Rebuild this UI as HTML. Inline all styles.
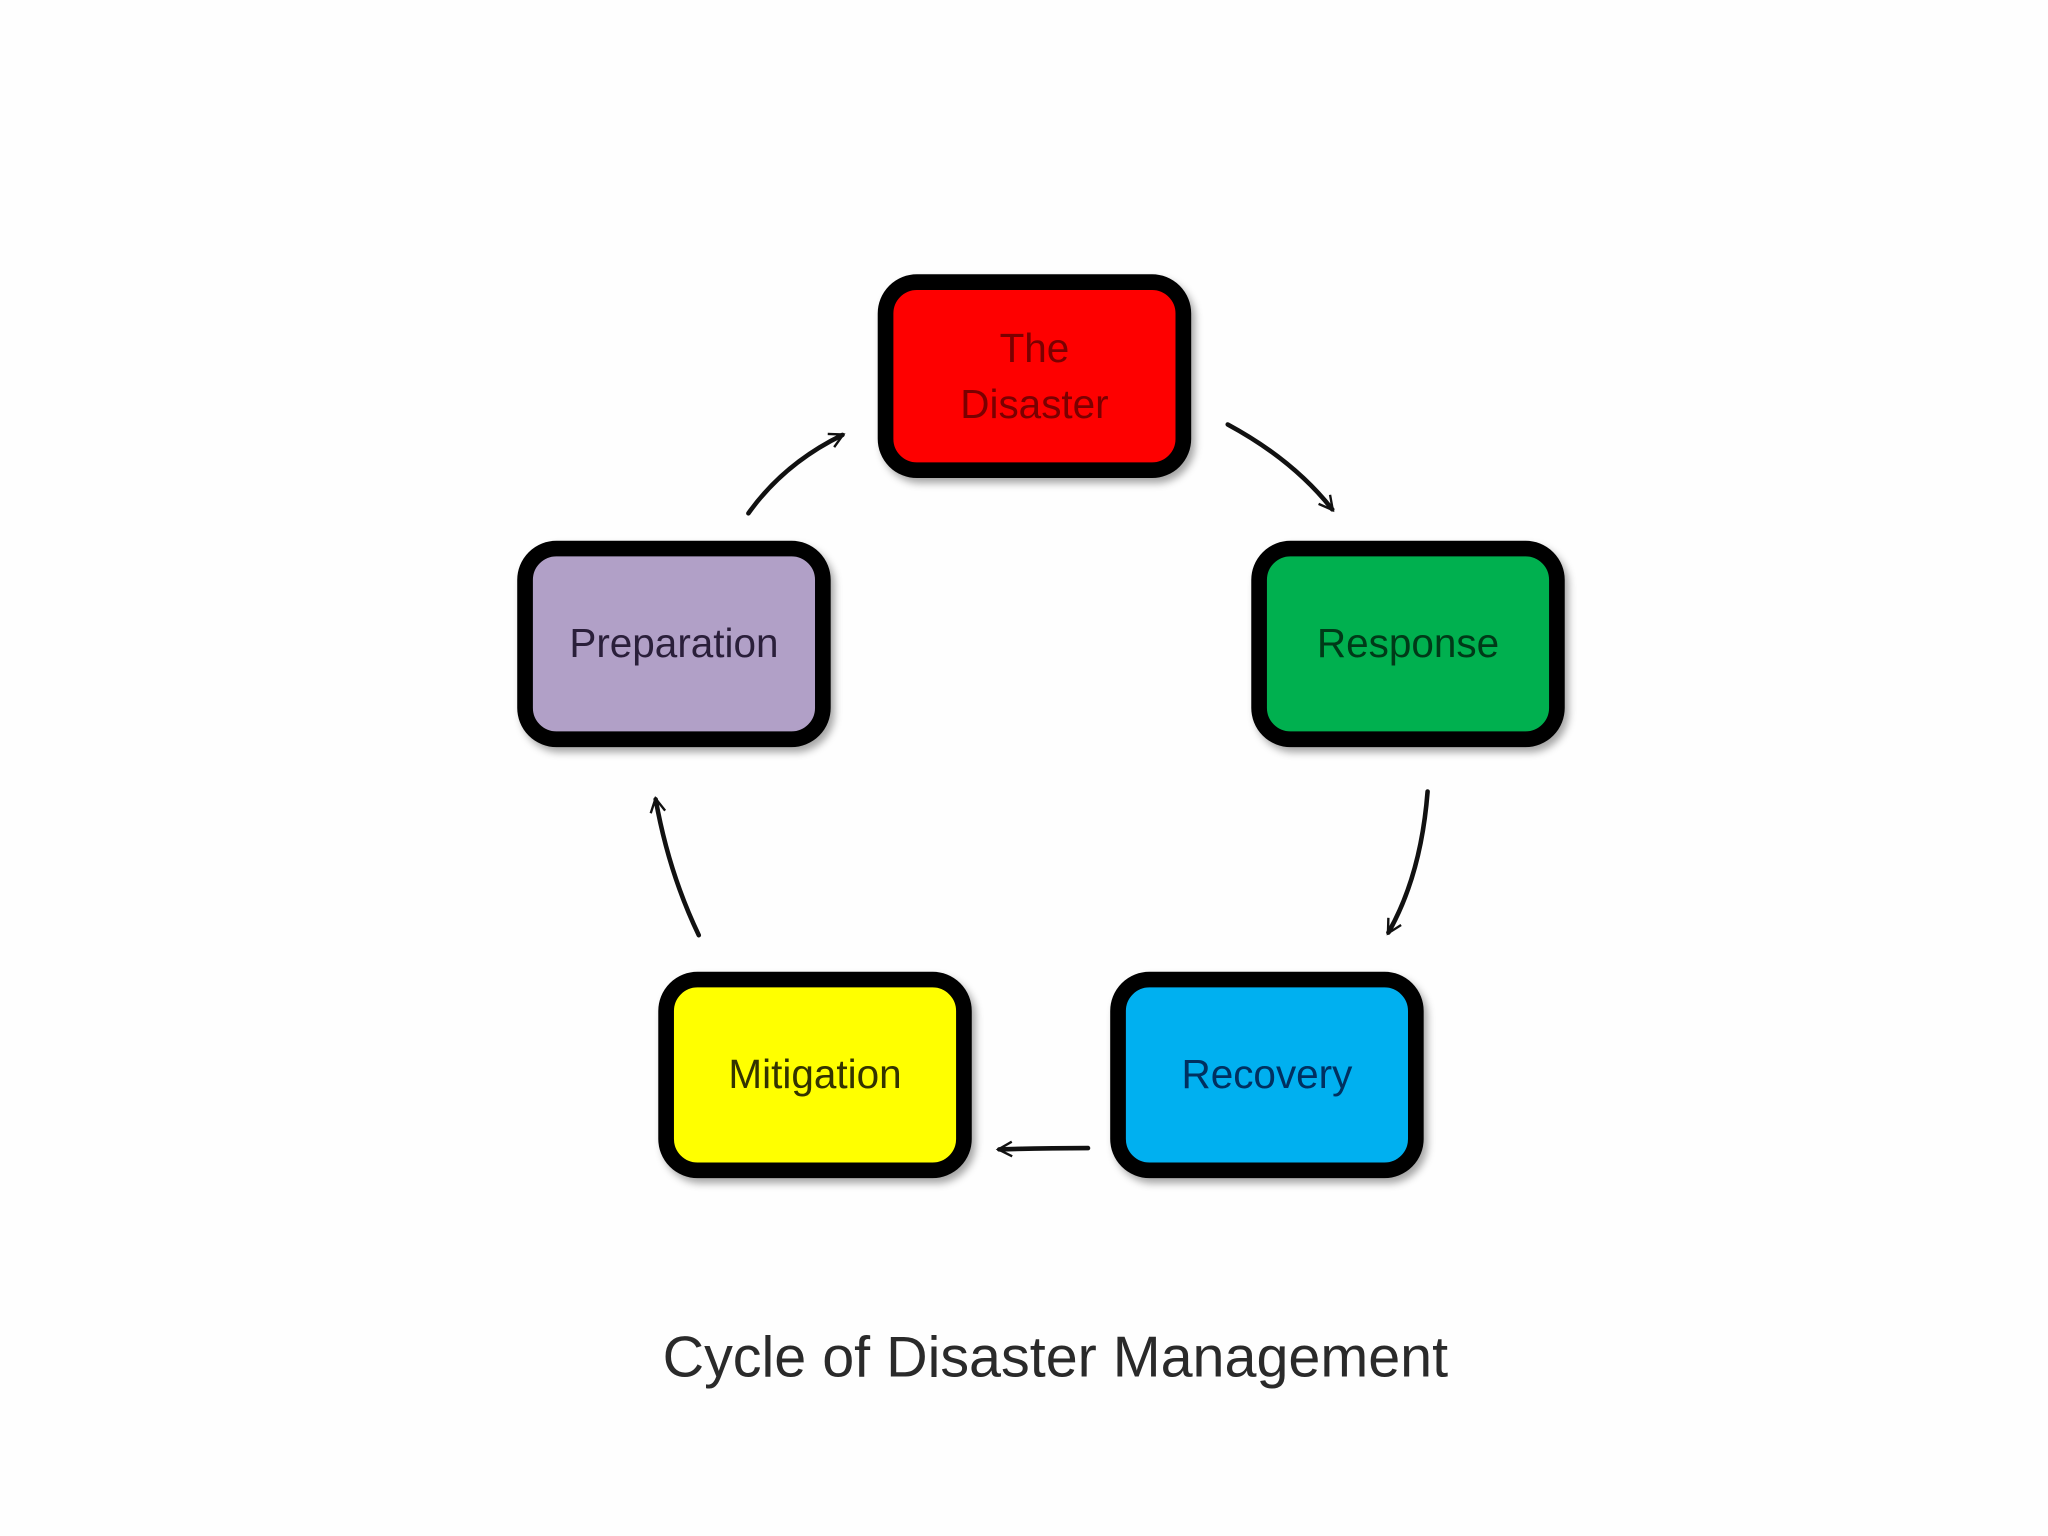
<!DOCTYPE html>
<html><head><style>html,body{margin:0;padding:0;background:#fff}svg{display:block}</style></head><body>
<svg width="2048" height="1536" viewBox="0 0 1568 1176" preserveAspectRatio="none" xmlns="http://www.w3.org/2000/svg">
<defs>
<filter id="sh" x="-10%" y="-10%" width="130%" height="130%"><feDropShadow dx="3" dy="4" stdDeviation="3" flood-color="#000" flood-opacity="0.35"/></filter>
<marker id="ah" viewBox="0 0 20 20" refX="16" refY="10" markerWidth="14" markerHeight="14" orient="auto" markerUnits="userSpaceOnUse">
<path d="M2,2 L17,10 L2,18" fill="none" stroke="#111" stroke-width="2.6"/></marker>
</defs>
<rect width="1568" height="1176" fill="#fefefe"/>
<g stroke="#000" stroke-width="12" filter="url(#sh)">
<rect x="678" y="216" width="228" height="144" rx="24" fill="#fe0000"/>
<rect x="964" y="420" width="228" height="146" rx="24" fill="#00b04f"/>
<rect x="402" y="420" width="228" height="146" rx="24" fill="#b1a0c7"/>
<rect x="856" y="750" width="228" height="146" rx="24" fill="#00b0f0"/>
<rect x="510" y="750" width="228" height="146" rx="24" fill="#ffff00"/>
</g>
<g font-family="Liberation Sans, sans-serif" font-size="31" text-anchor="middle">
<text x="792" y="277" fill="#7a0000">The</text>
<text x="792" y="320" fill="#7a0000">Disaster</text>
<text x="1078" y="503" fill="#003a18">Response</text>
<text x="516" y="503" fill="#2a1f3a">Preparation</text>
<text x="970" y="833" fill="#003060">Recovery</text>
<text x="624" y="833" fill="#333300">Mitigation</text>
</g>
<g fill="none" stroke="#111" stroke-width="3.5" stroke-linecap="round" marker-end="url(#ah)">
<path d="M573,393 Q600,355 645,333"/>
<path d="M940,325 Q990,352 1020,390"/>
<path d="M1093,606 Q1088,670 1063,714"/>
<path d="M833,879 Q800,879 765,880"/>
<path d="M535,716 Q512,668 502,612"/>
</g>
<text x="808" y="1054" font-family="Liberation Sans, sans-serif" font-size="44" fill="#2a2a2a" text-anchor="middle">Cycle of Disaster Management</text>
</svg>
</body></html>
